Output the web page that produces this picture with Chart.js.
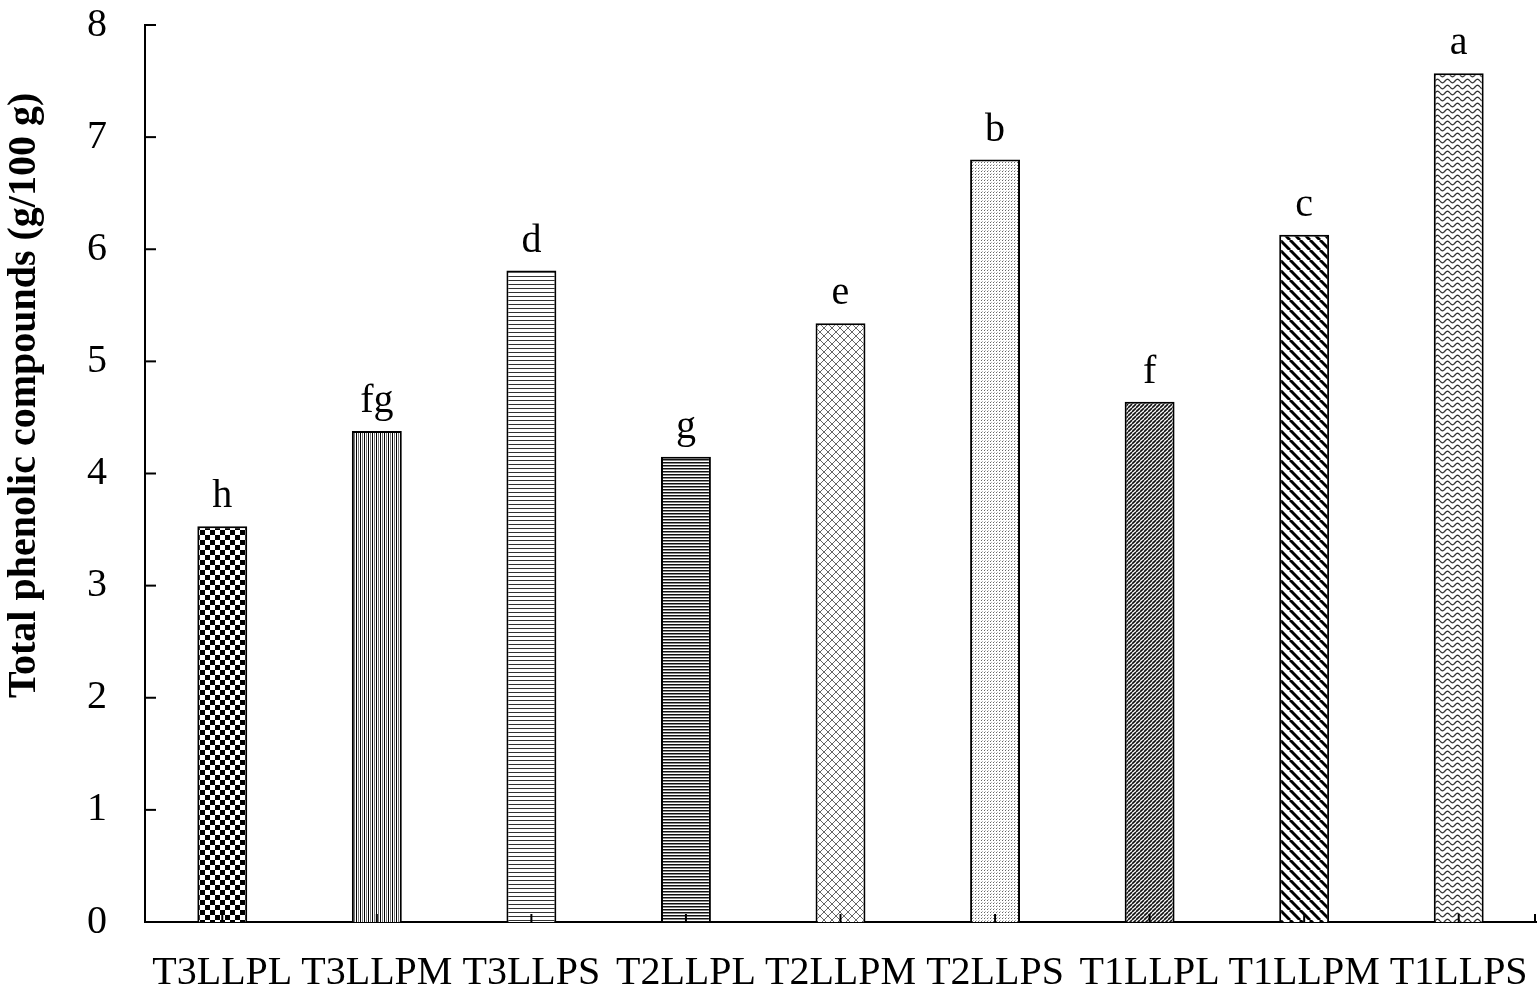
<!DOCTYPE html>
<html>
<head>
<meta charset="utf-8">
<script src="https://cdn.jsdelivr.net/npm/chart.js@4/dist/chart.umd.min.js"></script>
<style>
  html, body { margin: 0; padding: 0; background: #fff; }
  #wrap { width: 1537px; height: 996px; position: relative; }
</style>
</head>
<body>
<div id="wrap"><canvas id="chart"></canvas></div>
<script>
const categories = ["T3LLPL", "T3LLPM", "T3LLPS", "T2LLPL", "T2LLPM", "T2LLPS", "T1LLPL", "T1LLPM", "T1LLPS"]
const phenolics = [3.53, 4.38, 5.81, 4.15, 5.34, 6.80, 4.64, 6.13, 7.57]
const letters = ["h", "fg", "d", "g", "e", "b", "f", "c", "a"]
const yTicks = [0, 1, 2, 3, 4, 5, 6, 7, 8]
const yTitle = "Total phenolic compounds (g/100 g)"

const FONT = "'Liberation Serif', 'Times New Roman', serif"

// ---------- fill patterns, one per bar

function tile(w, h, draw) {
  const c = document.createElement("canvas")
  c.width = w
  c.height = h
  const g = c.getContext("2d")
  g.fillStyle = "#fff"
  g.fillRect(0, 0, w, h)
  draw(g, w, h)
  return g.createPattern(c, "repeat")
}

function diag(g, s, dir, width, color) {
  g.strokeStyle = color
  g.lineWidth = width
  for (let k = -1; k <= 1; k++) {
    g.beginPath()
    if (dir > 0) {
      g.moveTo(k * s, s)
      g.lineTo(k * s + s, 0)
    } else {
      g.moveTo(k * s, 0)
      g.lineTo(k * s + s, s)
    }
    g.stroke()
  }
}

const patterns = [
  // checkerboard
  tile(10, 10, g => {
    g.fillStyle = "#000"
    g.fillRect(0, 0, 5, 5)
    g.fillRect(5, 5, 5, 5)
  }),
  // vertical lines
  tile(4, 1, g => {
    g.fillStyle = "#000"
    g.fillRect(0, 0, 1, 1)
    g.fillStyle = "#777"
    g.fillRect(2, 0, 1, 1)
  }),
  // horizontal lines
  tile(1, 4, g => {
    g.fillStyle = "#333"
    g.fillRect(0, 0, 1, 1)
  }),
  // dense horizontal
  tile(1, 3, g => {
    g.fillStyle = "#111"
    g.fillRect(0, 0, 1, 1)
    g.fillStyle = "#888"
    g.fillRect(0, 1, 1, 1)
  }),
  // diagonal crosshatch
  tile(8, 8, g => {
    diag(g, 8, 1, 1, "#666")
    diag(g, 8, -1, 1, "#666")
  }),
  // fine dots
  tile(3, 3, g => {
    g.fillStyle = "#666"
    g.fillRect(0, 0, 1, 1)
    g.fillStyle = "#bbb"
    g.fillRect(1, 2, 1, 1)
  }),
  // dense "/" diagonal
  tile(4, 4, g => diag(g, 4, 1, 1.6, "#111")),
  // wide "\" diagonal
  tile(10, 10, g => diag(g, 10, -1, 3, "#000")),
  // waves
  tile(10, 6, g => {
    g.strokeStyle = "#333"
    g.lineWidth = 1.3
    g.beginPath()
    for (let x = 0; x <= 10; x += 0.5) {
      const y = 3 + 1.8 * Math.sin(x / 10 * Math.PI * 2)
      if (x === 0) g.moveTo(x, y)
      else g.lineTo(x, y)
    }
    g.stroke()
  })
]

// ---------- inward ticks, y title and significance letters

const decorations = {
  id: "decorations",
  afterDatasetsDraw(chart) {
    const { ctx, chartArea, scales } = chart
    ctx.save()
    ctx.strokeStyle = "#000"
    ctx.lineWidth = 2

    yTicks.forEach(v => {
      const y = scales.y.getPixelForValue(v)
      ctx.beginPath()
      ctx.moveTo(chartArea.left, y)
      ctx.lineTo(chartArea.left + 11, y)
      ctx.stroke()
    })

    categories.forEach((c, i) => {
      const x = scales.x.getPixelForValue(i)
      ctx.beginPath()
      ctx.moveTo(x, chartArea.bottom)
      ctx.lineTo(x, chartArea.bottom - 8)
      ctx.stroke()
    })
    ctx.beginPath()
    ctx.moveTo(chartArea.right - 1, chartArea.bottom)
    ctx.lineTo(chartArea.right - 1, chartArea.bottom - 8)
    ctx.stroke()

    ctx.fillStyle = "#000"
    ctx.font = "40px " + FONT
    ctx.textAlign = "center"
    ctx.textBaseline = "alphabetic"
    chart.getDatasetMeta(0).data.forEach((bar, i) => {
      ctx.fillText(letters[i], bar.x, bar.y - 19)
    })

    // y axis title, sits above the plot centre like the original
    ctx.font = "bold 40px " + FONT
    ctx.translate(35, 698)
    ctx.rotate(-Math.PI / 2)
    ctx.textAlign = "left"
    ctx.fillText(yTitle, 0, 0)
    ctx.restore()
  }
}

new Chart(document.getElementById("chart"), {
  type: "bar",
  data: {
    labels: categories,
    datasets: [
      {
        data: phenolics,
        backgroundColor: patterns,
        borderColor: "#000",
        borderWidth: 2,
        categoryPercentage: 1,
        barPercentage: 0.323
      }
    ]
  },
  options: {
    responsive: true,
    maintainAspectRatio: false,
    animation: false,
    layout: { padding: { top: 25, right: 1, left: 0, bottom: 0 } },
    plugins: {
      legend: { display: false },
      tooltip: { enabled: false }
    },
    scales: {
      x: {
        grid: { display: false },
        border: { color: "#000", width: 2 },
        ticks: {
          color: "#000",
          font: { family: FONT, size: 40 },
          padding: 19,
          maxRotation: 0,
          autoSkip: false
        },
        afterFit: s => {
          s.height = 74
          s.paddingLeft = 0
          s.paddingRight = 0
        }
      },
      y: {
        min: 0,
        max: 8,
        grid: { display: false },
        border: { color: "#000", width: 2 },
        ticks: {
          stepSize: 1,
          color: "#000",
          font: { family: FONT, size: 40 },
          padding: 30
        },
        afterFit: s => {
          s.width = 145
          s.paddingTop = 0
          s.paddingBottom = 0
        }
      }
    }
  },
  plugins: [decorations]
})
</script>
</body>
</html>
